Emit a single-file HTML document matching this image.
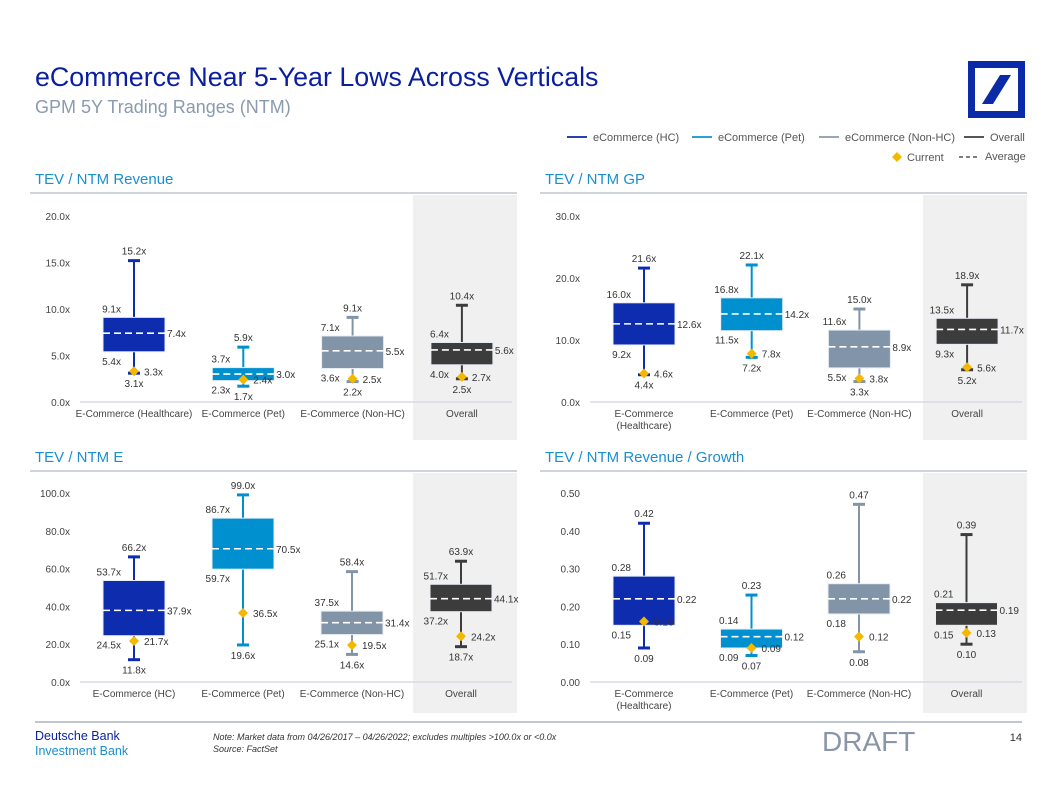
<!DOCTYPE html>
<html><head><meta charset="utf-8">
<style>
body{margin:0;background:#fff;}
svg{display:block;font-family:"Liberation Sans",Arial,sans-serif;}
</style></head>
<body>
<svg id="s" width="1057" height="796" viewBox="0 0 1057 796" xmlns="http://www.w3.org/2000/svg">
<text x="35" y="86" font-size="26.8" fill="#0a1fa0">eCommerce Near 5-Year Lows Across Verticals</text>
<text x="35" y="113" font-size="18" fill="#8a9ab0">GPM 5Y Trading Ranges (NTM)</text>
<g>
<rect x="971.5" y="64.5" width="50" height="50" fill="none" stroke="#0a2aa8" stroke-width="7"/>
<polygon points="1011,75 1000,75 982,104 993,104" fill="#0a2aa8"/>
</g>
<g font-size="11" fill="#555">
<line x1="567" y1="137" x2="587" y2="137" stroke="#2840b0" stroke-width="2"/><text x="593" y="141">eCommerce (HC)</text>
<line x1="692" y1="137" x2="712" y2="137" stroke="#2aa0d8" stroke-width="2"/><text x="718" y="141">eCommerce  (Pet)</text>
<line x1="819" y1="137" x2="839" y2="137" stroke="#9aa6b8" stroke-width="2"/><text x="845" y="141">eCommerce (Non-HC)</text>
<line x1="964" y1="137" x2="984" y2="137" stroke="#555" stroke-width="2"/><text x="990" y="141">Overall</text>
<polygon points="897,152 902,157 897,162 892,157" fill="#f5b800"/><text x="907" y="161">Current</text>
<line x1="959" y1="157" x2="978" y2="157" stroke="#555" stroke-width="1.5" stroke-dasharray="4 3"/><text x="985" y="160">Average</text>
</g>
<g id="charts"></g>
<g>
<line x1="35" y1="722" x2="1022" y2="722" stroke="#a8b4c0" stroke-width="1.5"/>
<text x="35" y="740" font-size="12.5" fill="#0a1fa0">Deutsche Bank</text>
<text x="35" y="755" font-size="12.5" fill="#1a8fd0">Investment Bank</text>
<text x="213" y="740" font-size="9" font-style="italic" fill="#333">Note: Market data from 04/26/2017 – 04/26/2022; excludes multiples &gt;100.0x or &lt;0.0x</text>
<text x="213" y="752" font-size="9" font-style="italic" fill="#333">Source: FactSet</text>
<text x="822" y="751" font-size="28" fill="#8a96a8">DRAFT</text>
<text x="1022" y="741" font-size="11" fill="#333" text-anchor="end">14</text>
</g>
</svg>
<script>
const NS='http://www.w3.org/2000/svg';
const COLORS=['#0e2cae','#0090d0','#8294a8','#3c3c3c'];
// TEV / NTM Revenue
const revCats=['E-Commerce (Healthcare)','E-Commerce (Pet)','E-Commerce (Non-HC)','Overall'];
const revMax=[15.2,5.9,9.1,10.4];
const revQ3=[9.1,3.7,7.1,6.4];
const revAvg=[7.4,3.0,5.5,5.6];
const revQ1=[5.4,2.3,3.6,4.0];
const revMin=[3.1,1.7,2.2,2.5];
const revCur=[3.3,2.4,2.5,2.7];
const revTicks=[0,5,10,15,20];
// TEV / NTM GP
const gpCats=['E-Commerce|(Healthcare)','E-Commerce (Pet)','E-Commerce (Non-HC)','Overall'];
const gpMax=[21.6,22.1,15.0,18.9];
const gpQ3=[16.0,16.8,11.6,13.5];
const gpAvg=[12.6,14.2,8.9,11.7];
const gpQ1=[9.2,11.5,5.5,9.3];
const gpMin=[4.4,7.2,3.3,5.2];
const gpCur=[4.6,7.8,3.8,5.6];
const gpTicks=[0,10,20,30];
// TEV / NTM E
const eCats=['E-Commerce (HC)','E-Commerce (Pet)','E-Commerce (Non-HC)','Overall'];
const eMax=[66.2,99.0,58.4,63.9];
const eQ3=[53.7,86.7,37.5,51.7];
const eAvg=[37.9,70.5,31.4,44.1];
const eQ1=[24.5,59.7,25.1,37.2];
const eMin=[11.8,19.6,14.6,18.7];
const eCur=[21.7,36.5,19.5,24.2];
const eTicks=[0,20,40,60,80,100];
// TEV / NTM Revenue / Growth
const gCats=['E-Commerce|(Healthcare)','E-Commerce (Pet)','E-Commerce (Non-HC)','Overall'];
const gMax=[0.42,0.23,0.47,0.39];
const gQ3=[0.28,0.14,0.26,0.21];
const gAvg=[0.22,0.12,0.22,0.19];
const gQ1=[0.15,0.09,0.18,0.15];
const gMin=[0.09,0.07,0.08,0.10];
const gCur=[0.16,0.09,0.12,0.13];
const gTicks=[0,0.1,0.2,0.3,0.4,0.5];

const root=document.getElementById('charts');
function el(tag,attrs,parent,txt){const e=document.createElementNS(NS,tag);for(const k in attrs)e.setAttribute(k,attrs[k]);if(txt!==undefined)e.textContent=txt;parent.appendChild(e);return e;}

function chart(o){
  const g=el('g',{},root);
  
  
  const t=el('text',{x:o.left+5,y:o.top-8,'font-size':15,fill:'#1a8fd0'},g,o.title);
  
  
  el('line',{x1:o.left,y1:o.top+1,x2:o.left+487,y2:o.top+1,stroke:'#cfd4da','stroke-width':2},g);
  el('rect',{x:o.left+383,y:o.top+3,width:104,height:o.bgH,fill:'#f0f0f0'},g);
  const ymax=o.ticks[o.ticks.length-1];
  const Y=v=>o.y0-v/ymax*(o.y0-o.yTop);
  const X=i=>o.cx0+i*o.step;
  const fmt=v=>o.dec===2?v.toFixed(2):v.toFixed(1)+'x';
  o.ticks.forEach(v=>{
    const tk=el('text',{x:o.left+40,y:Y(v)+4,'font-size':10,fill:'#444','text-anchor':'end'},g,fmt(v));
    
    
  });
  el('line',{x1:o.left+50,y1:o.y0,x2:o.left+482,y2:o.y0,stroke:'#d8dbe6','stroke-width':1.5},g);
  o.cats.forEach((c,i)=>{
    const cx=X(i),col=COLORS[i];
    const lines=c.split('|');
    lines.forEach((ln,j)=>{
      const ct=el('text',{x:cx,y:o.y0+15+j*12,'font-size':10,fill:'#444','text-anchor':'middle'},g,ln);
      
      
    });
    const bg=el('g',{},g);
    
    
    el('line',{x1:cx,y1:Y(o.max[i]),x2:cx,y2:Y(o.min[i]),stroke:col,'stroke-width':2},bg);
    el('line',{x1:cx-6,y1:Y(o.max[i]),x2:cx+6,y2:Y(o.max[i]),stroke:col,'stroke-width':3},bg);
    el('line',{x1:cx-6,y1:Y(o.min[i]),x2:cx+6,y2:Y(o.min[i]),stroke:col,'stroke-width':3},bg);
    el('rect',{x:cx-31,y:Y(o.q3[i]),width:62,height:Y(o.q1[i])-Y(o.q3[i]),fill:col,stroke:'#e8eef6','stroke-width':1},bg);
    el('line',{x1:cx-31,y1:Y(o.avg[i]),x2:cx+31,y2:Y(o.avg[i]),stroke:'#fff','stroke-width':1.6,'stroke-dasharray':'7 4'},bg);
    const yc=Y(o.cur[i]);
    el('polygon',{points:`${cx},${yc-5} ${cx+5},${yc} ${cx},${yc+5} ${cx-5},${yc}`,fill:'#f5b800'},bg);
    const L=(x,y,txt,anc)=>el('text',{x:x,y:y,'font-size':10,fill:'#333','text-anchor':anc},bg,txt);
    L(cx,Y(o.max[i])-6,fmt(o.max[i]),'middle');
    L(cx-13,Y(o.q3[i])-5,fmt(o.q3[i]),'end');
    L(cx-13,Y(o.q1[i])+13,fmt(o.q1[i]),'end');
    L(cx+33,Y(o.avg[i])+4,fmt(o.avg[i]),'start');
    L(cx+10,yc+4,fmt(o.cur[i]),'start');
    L(cx,Y(o.min[i])+14,fmt(o.min[i]),'middle');
  });
}
chart({name:'tev-ntm-revenue-chart',title:'TEV / NTM Revenue',left:30,top:192,bgH:245,y0:402,yTop:216,cx0:134,step:109.3,
  cats:revCats,max:revMax,q3:revQ3,avg:revAvg,q1:revQ1,min:revMin,cur:revCur,ticks:revTicks,dec:1});
chart({name:'tev-ntm-gp-chart',title:'TEV / NTM GP',left:540,top:192,bgH:245,y0:402,yTop:216,cx0:644,step:107.7,
  cats:gpCats,max:gpMax,q3:gpQ3,avg:gpAvg,q1:gpQ1,min:gpMin,cur:gpCur,ticks:gpTicks,dec:1});
chart({name:'tev-ntm-e-chart',title:'TEV / NTM E',left:30,top:470,bgH:240,y0:682,yTop:493,cx0:134,step:109,
  cats:eCats,max:eMax,q3:eQ3,avg:eAvg,q1:eQ1,min:eMin,cur:eCur,ticks:eTicks,dec:1});
chart({name:'tev-ntm-revenue-growth-chart',title:'TEV / NTM Revenue / Growth',left:540,top:470,bgH:240,y0:682,yTop:493,cx0:644,step:107.5,
  cats:gCats,max:gMax,q3:gQ3,avg:gAvg,q1:gQ1,min:gMin,cur:gCur,ticks:gTicks,dec:2});
</script>
</body></html>
